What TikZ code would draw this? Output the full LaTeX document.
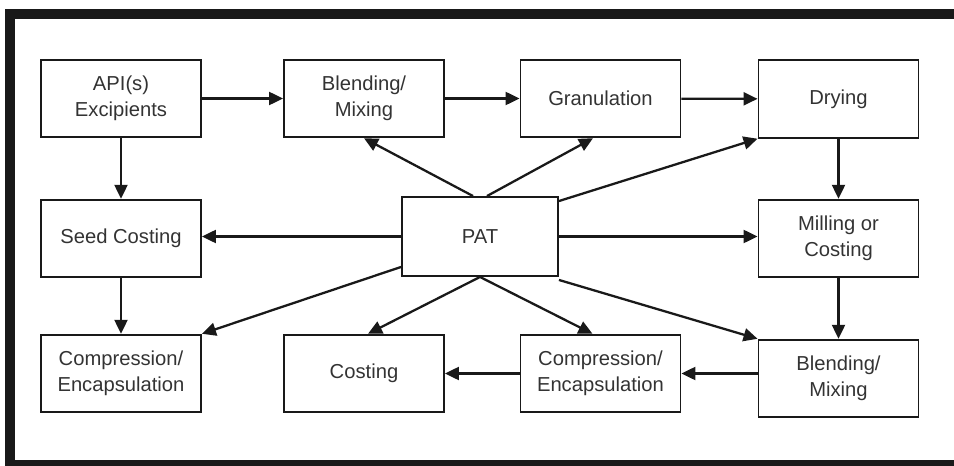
\documentclass[tikz,border=0pt]{standalone}
\usepackage{fontspec}
\setmainfont{Liberation Sans}
\usetikzlibrary{arrows.meta}

\begin{document}
\begin{tikzpicture}[
    x=0.02cm, y=-0.02cm,
    paso/.style={draw=black!90, line width=1.1pt, minimum width=3.2cm, minimum height=1.55cm, align=center, inner sep=2pt,
        text=black!80, font=\fontsize{11.5}{14.5}\selectfont},
    flecha/.style={line width=1.3pt, draw=black!90, -{Triangle[length=0.28cm,width=0.26cm]}},
    marco/.style={fill=black!90, draw=none}
]
\useasboundingbox (0,0) rectangle (954,466);
% black frame (top, left, bottom)
\fill[marco] (5,9) rectangle (954,19);
\fill[marco] (5,9) rectangle (15,466);
\fill[marco] (5,460) rectangle (954,466);

\node[paso] (api) at (121,98.5) {API(s)\\Excipients};
\node[paso] (b1) at (364,98.5) {Blending/\\Mixing};
\node[paso] (gran) at (600.5,98.5) {Granulation};
\node[paso] (dry) at (838.5,99) {Drying};

\node[paso] (seed) at (121,238.5) {Seed Costing};
\node[paso, minimum width=3.12cm, minimum height=1.58cm] (pat) at (480,236.5) {PAT};
\node[paso] (mill) at (838.5,238.5) {Milling or\\Costing};

\node[paso] (comp1) at (121,373.5) {Compression/\\Encapsulation};
\node[paso] (coat) at (364,373.5) {Costing};
\node[paso] (comp2) at (600.5,373.5) {Compression/\\Encapsulation};
\node[paso] (b2) at (838.5,378.5) {Blending/\\Mixing};

% main process line
\draw[flecha] (api) -- (b1);
\draw[flecha] (b1) -- (gran);
\draw[flecha] (gran) -- (dry);
\draw[flecha] (api) -- (seed);
\draw[flecha] (seed) -- (comp1);
\draw[flecha] (dry) -- (mill);
\draw[flecha] (mill) -- (b2);
\draw[flecha] (b2.west |- comp2.east) -- (comp2.east);
\draw[flecha] (comp2) -- (coat);

% PAT links
\draw[flecha] ([xshift=-0.14cm]pat.north) -- (b1.south);
\draw[flecha] ([xshift=0.14cm]pat.north) -- ([xshift=-0.15cm]gran.south);
\draw[flecha] ([yshift=-0.1cm]pat.north east) -- (dry.south west);
\draw[flecha] (pat.west) -- (pat.west -| seed.east);
\draw[flecha] (pat.east) -- (pat.east -| mill.west);
\draw[flecha] ([yshift=0.2cm]pat.south west) -- (comp1.north east);
\draw[flecha] (pat.south) -- ([xshift=0.08cm]coat.north);
\draw[flecha] (pat.south) -- ([xshift=-0.16cm]comp2.north);
\draw[flecha] ([yshift=-0.06cm]pat.south east) -- (b2.north west);
\end{tikzpicture}
\end{document}
